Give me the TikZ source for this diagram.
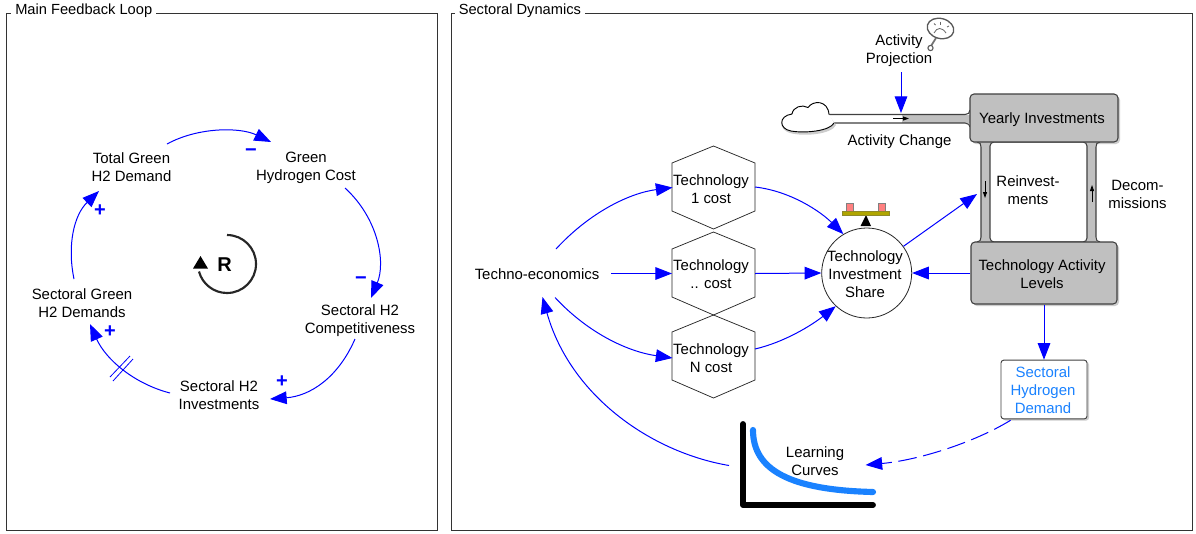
\documentclass[tikz,border=0pt]{standalone}
\usepackage{fontspec}
\setmainfont{Liberation Sans}
\usetikzlibrary{arrows.meta,shapes.geometric,calc}
\definecolor{stockgray}{RGB}{192,192,192}
\definecolor{linkblue}{RGB}{0,0,255}
\definecolor{demandblue}{RGB}{26,130,255}
\definecolor{edgegray}{RGB}{64,64,64}
\definecolor{shadowgray}{RGB}{205,205,205}
\tikzset{
  x=0.75pt,y=-0.75pt,
  lbl/.style={align=center,font=\fontsize{11.2pt}{13.5pt}\selectfont,inner sep=0pt},
  frametitle/.style={lbl,anchor=west,fill=white,inner xsep=3pt,inner ysep=1pt,font=\fontsize{11pt}{13.5pt}\selectfont},
  frame/.style={draw=black!80,line width=0.7pt},
  link/.style={draw=linkblue,line width=0.75pt,-{Triangle[length=12.5pt,width=9.5pt]}},
  sign/.style={text=linkblue,font=\fontsize{15pt}{15pt}\selectfont\bfseries,inner sep=0pt},
  hexa/.style={draw=black!85,line width=0.55pt},
  stock/.style={draw=edgegray,fill=stockgray,rounded corners=3pt,line width=0.8pt},
  pipe/.style={draw=edgegray,line width=0.8pt},
  tiny/.style={draw=black,line width=0.6pt,-{Triangle[length=4.5pt,width=3pt]}},
}
\newcommand{\hexpath}[2]{% centre x, top y
  \draw[hexa] (#1,#2) -- (#1+41.5,#2+17) -- (#1+41.5,#2+65) -- (#1,#2+83) -- (#1-41.5,#2+65) -- (#1-41.5,#2+17) -- cycle;}
\begin{document}
\begin{tikzpicture}
\useasboundingbox (0,0) rectangle (1196,533);
\fill[white] (0,0) rectangle (1196,533);
% frames
\draw[frame] (6,13) rectangle (437,530);
\draw[frame] (451,13) rectangle (1192,530);
\node[frametitle] (t1) at (11,10.5) {Main Feedback Loop};
\node[frametitle] (t2) at (454.5,10.5) {Sectoral Dynamics};
% left loop
\node[lbl] (tg) at (131.5,167.5) {Total Green\\H2 Demand};
\node[lbl] (gh) at (306,167.5) {Green\\Hydrogen Cost};
\node[lbl] (sc) at (360,320.5) {Sectoral H2\\Competitiveness};
\node[lbl] (si) at (219,395) {Sectoral H2\\Investments};
\node[lbl] (sg) at (82,303) {Sectoral Green\\H2 Demands};
\coordinate (a1) at (167,144); \coordinate (a2) at (271,142);
\coordinate (b1) at (345,188); \coordinate (b2) at (371,298);
\coordinate (c1) at (355,339); \coordinate (c2) at (270,399);
\coordinate (d1) at (170,393); \coordinate (d2) at (90,324);
\coordinate (e1) at (74,279); \coordinate (e2) at (99,191);
\draw[link] (a1) .. controls (198,127) and (240,127) .. (a2);
\draw[link] (b1) .. controls (378,218) and (386,262) .. (b2);
\draw[link] (c1) .. controls (338,378) and (310,396) .. (c2);
\draw[link] (d1) .. controls (135,384) and (106,360) .. (d2);
\draw[link] (e1) .. controls (67,245) and (74,215) .. (e2);
\node[sign] (m1) at (251,153) {\textminus};
\node[sign] (m2) at (361,281) {\textminus};
\node[sign] (p1) at (282,382) {+};
\node[sign] (p2) at (110,332) {+};
\node[sign] (p3) at (100,211) {+};
\coordinate (h1a) at (110,377); \coordinate (h1b) at (130,356);
\coordinate (h2a) at (113,381); \coordinate (h2b) at (133,359);
\draw[linkblue,line width=0.6pt] (h1a) -- (h1b);
\draw[linkblue,line width=0.6pt] (h2a) -- (h2b);
% R loop
\node[font=\fontsize{15pt}{15pt}\selectfont\bfseries,inner sep=0pt] (R) at (224.5,265) {R};
\draw[black!85,line width=1.6pt] (227,235) arc[start angle=-90,end angle=165,radius=29];
\fill[black] (200.5,256) -- (208,268.5) -- (193,268.5) -- cycle;
% hexagons
\hexpath{713.5}{146}
\hexpath{713.5}{232}
\hexpath{713.5}{315}
\coordinate (h1w) at (672.5,187.5); \coordinate (h1e) at (755,187);
\coordinate (h2w) at (672,273.5); \coordinate (h2e) at (755,273.5);
\coordinate (h3w) at (672.5,358); \coordinate (h3e) at (755,349);
\node[lbl] (h1t) at (711,189) {Technology\\1 cost};
\node[lbl] (h2t) at (711,274) {Technology\\.. cost};
\node[lbl] (h3t) at (711,358) {Technology\\N cost};
\node[lbl] (te) at (537,274) {Techno-economics};
\coordinate (teu) at (556,249); \coordinate (ter) at (611,273.5);
\coordinate (ted) at (555,297.5); \coordinate (tein) at (542.5,297);
% circle
\node[draw=black!85,fill=white,circle,minimum size=67.5pt,line width=0.6pt,inner sep=0pt] (share) at (866.7,273) {};
\node[lbl] (sharet) at (865,274) {Technology\\Investment\\Share};
% balance icon
\fill[black] (866,215) -- (860.5,226) -- (871,226) -- cycle;
\draw[fill=red!50!white,draw=gray,line width=0.5pt] (846,203.5) rectangle (853,211);
\draw[fill=red!50!white,draw=gray,line width=0.5pt] (878,203.5) rectangle (885,211);
\draw[fill=olive!70!yellow,draw=olive!70!gray,line width=0.5pt] (842.5,211) rectangle (889,215);
% stock shadows
\fill[shadowgray,rounded corners=3pt] (972,96) rectangle (1120,144);
\fill[shadowgray,rounded corners=3pt] (973,244) rectangle (1119,306);
\fill[shadowgray,rounded corners=2pt] (1003,362) rectangle (1089,420.5);
% pipes
\fill[stockgray] (902,114.5) rectangle (975,123);
\fill[stockgray] (981,140) rectangle (1096,245);
\draw[pipe] (829,114.5) -- (965,114.5) .. controls (968,114.5) and (970,113) .. (970,110);
\draw[pipe] (834,123) -- (965,123) .. controls (968,123) and (970,125) .. (970,127);
\draw[pipe] (977,142) .. controls (980,142) and (981,144) .. (981,147) -- (981,237) .. controls (981,240) and (980,242) .. (977,242);
\draw[pipe] (1100,142) .. controls (1097,142) and (1096,144) .. (1096,147) -- (1096,237) .. controls (1096,240) and (1097,242) .. (1100,242);
\node[draw=edgegray,fill=white,rounded corners=3pt,line width=0.8pt,minimum width=72.75pt,minimum height=75pt,inner sep=0pt] (hole) at (1038.5,192) {};
% stocks
\node[stock,minimum width=111pt,minimum height=36pt,inner sep=0pt] (yi) at (1044,118) {};
\node[lbl] (yit) at (1042,119.5) {Yearly Investments};
\node[stock,minimum width=109.5pt,minimum height=46.5pt,inner sep=0pt] (ta) at (1044,273) {};
\node[lbl] (tat) at (1042,274) {Technology Activity\\Levels};
% pipe arrows
\coordinate (pa1) at (893,118.5); \coordinate (pa2) at (909,118.5);
\coordinate (pb1) at (985,181); \coordinate (pb2) at (985,198);
\coordinate (pc1) at (1092,202); \coordinate (pc2) at (1092,185);
\draw[tiny] (pa1) -- (pa2);
\draw[tiny] (pb1) -- (pb2);
\draw[tiny] (pc1) -- (pc2);
% cloud
\draw[fill=shadowgray,draw=none] (836,125) .. controls (832,134) and (805,137) .. (790,133) .. controls (780,130) and (779,120) .. (786,117) -- (830,117) -- cycle;
\draw[fill=white,draw=black,line width=0.7pt] (834,123) .. controls (830,131) and (805,133.5) .. (791,131) .. controls (779,129) and (778,116) .. (792,114) .. controls (793,107) and (802,104) .. (808,107.5) .. controls (813,100) and (828,100) .. (829,114.5);
% labels
\node[lbl] (ac) at (899.5,141.5) {Activity Change};
\node[lbl] (ap) at (899,50.5) {Activity\\Projection};
\node[lbl] (ri) at (1028,190.5) {Reinvest-\\ments};
\node[lbl] (dm) at (1137.5,194) {Decom-\\missions};
% sectoral demand box
\node[draw=edgegray,fill=white,rounded corners=2pt,line width=0.7pt,minimum width=64.5pt,minimum height=44pt,inner sep=0pt] (sh) at (1044,389.5) {};
\node[lbl,text=demandblue] (sht) at (1043,390.5) {Sectoral\\Hydrogen\\Demand};
% clock
\draw[black!55,line width=1.3pt] (931,46) -- (936,38);
\draw[fill=white,draw=black!65,line width=0.8pt] (930.5,48) circle[radius=2.6];
\draw[fill=white,draw=black!65,line width=1pt,rotate around={-15:(940.5,28.5)}] (940.5,28.5) ellipse[x radius=13.5,y radius=10];
\draw[black!60,line width=0.6pt] (934,33) .. controls (937,27) and (942,27) .. (946,33);
\draw[black!60,line width=0.6pt] (940,21.5) -- (940,25);
\draw[black!60,line width=0.6pt] (934,23.5) -- (935.5,25);
\draw[black!60,line width=0.6pt] (949,26) -- (947,27);
% learning curve icon
\draw[black,line width=4.4pt,line cap=round,line join=round] (743,424) -- (743,505) -- (873,505);
\draw[demandblue,line width=4.6pt,line cap=round] (753,430) .. controls (753,470) and (790,490) .. (873,492);
\node[lbl] (lc) at (815,461.5) {Learning\\Curves};
\coordinate (lcl) at (729,465.5); \coordinate (lcr) at (865.5,465);
\coordinate (yin) at (977,194); \coordinate (apb) at (901,72); \coordinate (act) at (901,113);
% right links
\draw[link] (apb) -- (act);
\draw[link] (teu) .. controls (590,212) and (630,193) .. (h1w);
\draw[link] (ter) -- (h2w);
\draw[link] (ted) .. controls (590,335) and (630,352) .. (h3w);
\draw[link] (h1e) .. controls (790,191) and (820,211) .. (share.121);
\draw[link] (h2e) -- (share.west);
\draw[link] (h3e) .. controls (785,342) and (812,325) .. (share.227);
\draw[link] (share.36) -- (yin);
\draw[link] (ta.west) -- (share.east);
\draw[link] (ta.south) -- (sh.north);
\draw[link,dash pattern=on 14pt off 5pt] (sh.south west) ++(10,1) .. controls (975,442) and (920,460) .. (lcr);
\draw[link] (lcl) .. controls (650,452) and (570,395) .. (tein);
\end{tikzpicture}
\end{document}
